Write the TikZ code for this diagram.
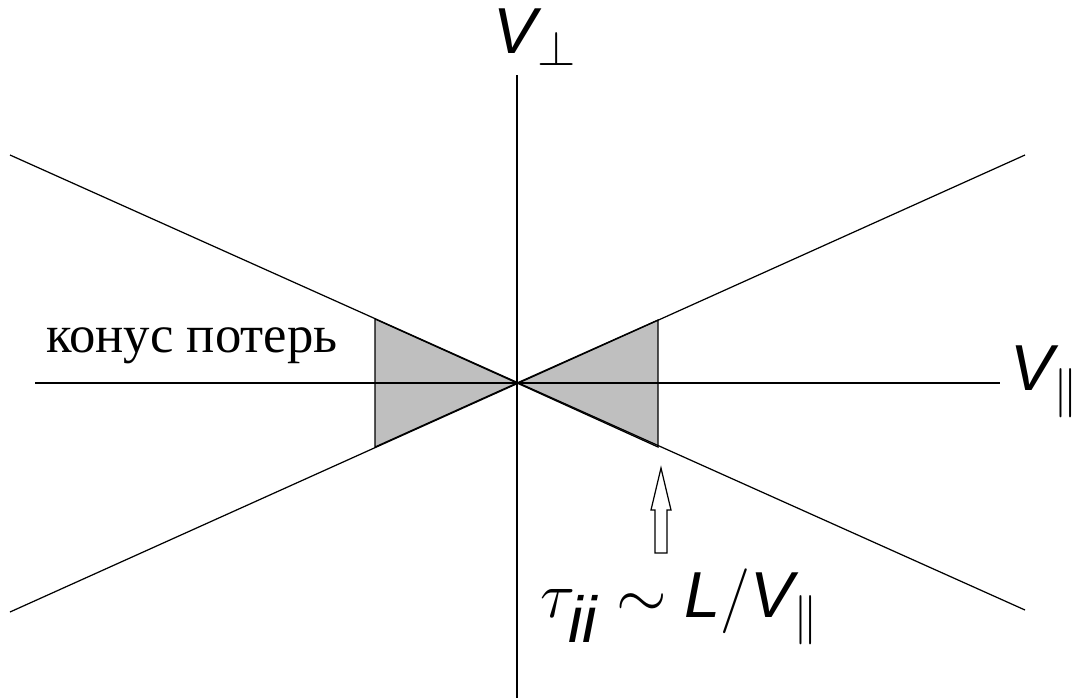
\documentclass[tikz,border=0pt]{standalone}
\usepackage{fix-cm}
\usepackage{fontspec}
\setmainfont{Liberation Serif}
\setsansfont{Liberation Sans}
\usepackage{tikz}
\usetikzlibrary{calc}
\newcommand{\subsym}[1]{_{\mbox{\fontsize{28}{28}\selectfont$#1$}}}

\begin{document}
\begin{tikzpicture}[
  x=0.02cm, y=-0.02cm,
  axis/.style={line width=0.7pt},
  cone/.style={line width=0.7pt},
  lossfill/.style={fill=black!25, draw, line width=0.7pt},
  biglbl/.style={font=\fontsize{37}{40}\selectfont, inner sep=0pt},
  txtlbl/.style={font=\fontsize{30}{33}\selectfont, inner sep=0pt}
]
\useasboundingbox (0,0) rectangle (1080,698);
\coordinate (O) at (517,383);

% shaded loss regions
\filldraw[lossfill] (375,319) -- (O) -- (375,447) -- cycle;
\filldraw[lossfill] (658,320) -- (O) -- (658,447) -- cycle;

% axes
\draw[axis] (35,383) -- (1000,383);
\draw[axis] (517,75) -- (517,698);

% cone boundaries
\draw[cone] (10,155) -- (1025,610);
\draw[cone] (10,612) -- (1025,155);

% hollow arrow
\draw[line width=0.7pt, fill=white]
  (655,553) -- (655,510) -- (651,510) -- (661,468) -- (671,510)
  -- (667,510) -- (667,553) -- cycle;

% labels
\node[biglbl] (vperp) at (535,37) {{\sffamily\itshape V}$\subsym{\perp}$};
\node[biglbl] (vpar) at (1045,382) {{\sffamily\itshape V}$\subsym{\parallel}$};
\node[biglbl] (tau) at (680,607)
  {$\tau_{\textsf{\itshape ii}}\sim\textsf{\itshape L}/\textsf{\itshape V}\subsym{\parallel}$};
\node[txtlbl] (cone) at (192,346) {конус потерь};
\end{tikzpicture}
\end{document}
